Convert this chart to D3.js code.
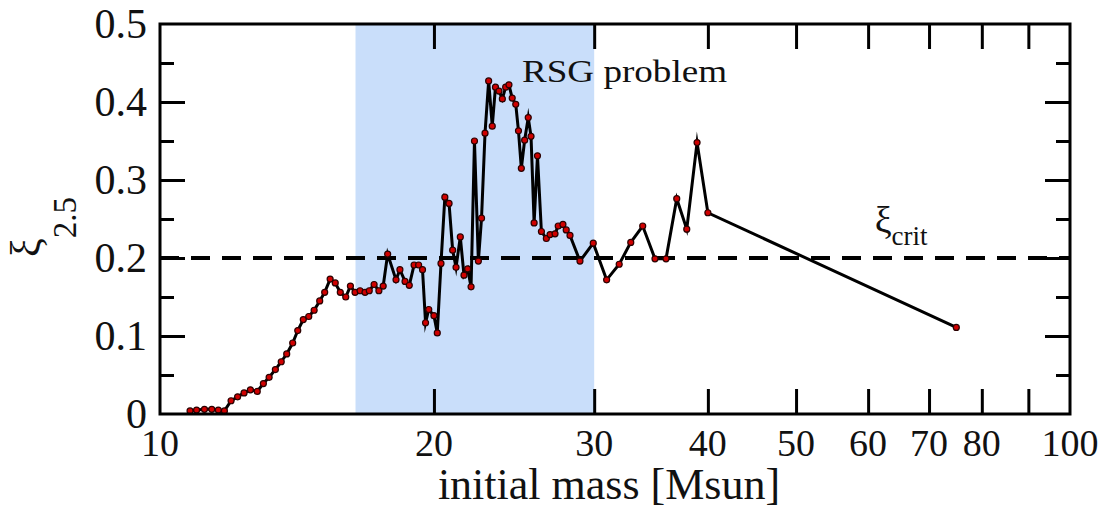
<!DOCTYPE html>
<html>
<head>
<meta charset="utf-8">
<script src="https://cdn.jsdelivr.net/npm/d3@7"></script>
<style>
  body { margin: 0; background: #fff; }
  svg { display: block; }
  text { font-family: "Liberation Serif", "Times New Roman", serif; fill: #111; }
</style>
</head>
<body>
<svg id="chart" width="1107" height="512"></svg>
<script>
'use strict';

// initial mass [Msun] and compactness xi_2.5
const masses = [
  10.79, 10.97, 11.19, 11.40, 11.59, 11.77, 11.97, 12.17, 12.37, 12.57,
  12.79, 12.99, 13.18, 13.39, 13.59, 13.78, 13.99, 14.17, 14.37, 14.57,
  14.77, 14.98, 15.17, 15.38, 15.58, 15.78, 16.00, 16.19, 16.38, 16.59,
  16.80, 16.98, 17.19, 17.40, 17.59, 17.79, 18.17, 18.35, 18.59, 18.79,
  19.02, 19.24, 19.43, 19.58, 19.74, 20.00, 20.17, 20.36, 20.56, 20.78,
  20.97, 21.15, 21.38, 21.58, 21.78, 21.97, 22.16, 22.38, 22.56, 22.76,
  22.97, 23.18, 23.37, 23.58, 23.78, 23.98, 24.18, 24.38, 24.60, 24.77,
  24.95, 25.16, 25.39, 25.57, 25.77, 25.99, 26.25, 26.58, 26.83, 27.17,
  27.39, 27.72, 27.95, 28.22, 28.94, 29.93, 30.96, 31.96, 32.91, 33.92,
  34.99, 35.98, 36.97, 37.92, 38.92, 40.0, 75.0
];
const xiValues = [
  0.004, 0.005, 0.006, 0.006, 0.005, 0.004, 0.017, 0.022, 0.027, 0.031,
  0.029, 0.039, 0.047, 0.057, 0.067, 0.077, 0.091, 0.107, 0.121, 0.125,
  0.133, 0.145, 0.156, 0.173, 0.168, 0.156, 0.150, 0.164, 0.156, 0.158,
  0.156, 0.158, 0.166, 0.158, 0.164, 0.205, 0.172, 0.185, 0.170, 0.165,
  0.191, 0.191, 0.185, 0.117, 0.134, 0.126, 0.104, 0.193, 0.278, 0.270,
  0.210, 0.188, 0.227, 0.178, 0.186, 0.163, 0.350, 0.196, 0.251, 0.360,
  0.427, 0.369, 0.419, 0.414, 0.404, 0.419, 0.422, 0.405, 0.397, 0.363,
  0.315, 0.351, 0.380, 0.356, 0.245, 0.331, 0.234, 0.225, 0.230, 0.231,
  0.241, 0.243, 0.236, 0.229, 0.196, 0.219, 0.172, 0.192, 0.220, 0.241,
  0.199, 0.199, 0.276, 0.237, 0.348, 0.258, 0.111
];

const rsgRange = [16.4, 30];
const xiCrit = 0.2;

const xTicks = [20, 30, 40, 50, 60, 70, 80, 90];
const xTickLabels = [10, 20, 30, 40, 50, 60, 70, 80, 100];
const yMajor = [0.1, 0.2, 0.3, 0.4];
const yMinor = [0.05, 0.15, 0.25, 0.35, 0.45];
const yTickLabels = [0, 0.1, 0.2, 0.3, 0.4, 0.5];

const svg = d3.select('#chart');
const margin = { top: 24, right: 37, bottom: 98, left: 160 };
const width = +svg.attr('width') - margin.left - margin.right;
const height = +svg.attr('height') - margin.top - margin.bottom;

const x = d3.scaleLog().domain([10, 100]).range([0, width]);
const y = d3.scaleLinear().domain([0, 0.5]).range([height, 0]);

const g = svg.append('g')
  .attr('transform', `translate(${margin.left},${margin.top})`);

// RSG problem band
g.append('rect')
  .attr('x', x(rsgRange[0]))
  .attr('y', 0)
  .attr('width', x(rsgRange[1]) - x(rsgRange[0]))
  .attr('height', height)
  .attr('fill', '#c9defa');

// critical compactness
g.append('line')
  .attr('x1', 0).attr('x2', width)
  .attr('y1', y(xiCrit)).attr('y2', y(xiCrit))
  .attr('stroke', '#000')
  .attr('stroke-width', 4)
  .attr('stroke-dasharray', '19 12');

const points = masses.map((m, i) => ({ m, xi: xiValues[i] }));

const line = d3.line()
  .x(d => x(d.m))
  .y(d => y(d.xi));

g.append('path')
  .datum(points)
  .attr('d', line)
  .attr('fill', 'none')
  .attr('stroke', '#000')
  .attr('stroke-width', 3)
  .attr('stroke-linejoin', 'miter')
  .attr('stroke-miterlimit', 8);

g.selectAll('circle.pt')
  .data(points)
  .enter().append('circle')
    .attr('class', 'pt')
    .attr('cx', d => x(d.m))
    .attr('cy', d => y(d.xi))
    .attr('r', 3)
    .attr('fill', '#d00000')
    .attr('stroke', '#2a0000')
    .attr('stroke-width', 1.2);

// axes: ticks pointing inward on all four sides
const styleAxis = function(sel) {
  sel.select('.domain').remove();
  sel.selectAll('.tick line').attr('stroke', '#000').attr('stroke-width', 3);
  sel.selectAll('text').remove();
};

g.append('g')
  .attr('transform', `translate(0,${height})`)
  .call(d3.axisBottom(x).tickValues(xTicks).tickSize(-25))
  .call(styleAxis);
g.append('g')
  .call(d3.axisTop(x).tickValues(xTicks).tickSize(-25))
  .call(styleAxis);
g.append('g')
  .call(d3.axisLeft(y).tickValues(yMajor).tickSize(-25))
  .call(styleAxis);
g.append('g')
  .call(d3.axisLeft(y).tickValues(yMinor).tickSize(-14))
  .call(styleAxis);
g.append('g')
  .attr('transform', `translate(${width},0)`)
  .call(d3.axisRight(y).tickValues(yMajor).tickSize(-25))
  .call(styleAxis);
g.append('g')
  .attr('transform', `translate(${width},0)`)
  .call(d3.axisRight(y).tickValues(yMinor).tickSize(-14))
  .call(styleAxis);

g.append('rect')
  .attr('width', width)
  .attr('height', height)
  .attr('fill', 'none')
  .attr('stroke', '#000')
  .attr('stroke-width', 3);

// tick labels
g.selectAll('text.ylab')
  .data(yTickLabels)
  .enter().append('text')
    .attr('class', 'ylab')
    .attr('x', -13)
    .attr('y', d => y(d))
    .attr('dy', '0.34em')
    .attr('text-anchor', 'end')
    .attr('font-size', 42)
    .text(d => d);

g.selectAll('text.xlab')
  .data(xTickLabels)
  .enter().append('text')
    .attr('class', 'xlab')
    .attr('x', d => x(d))
    .attr('y', height + 42)
    .attr('text-anchor', 'middle')
    .attr('font-size', 38)
    .text(d => d);

// axis titles
g.append('text')
  .attr('x', width / 2 - 6)
  .attr('y', height + 85)
  .attr('text-anchor', 'middle')
  .attr('font-size', 44)
  .text('initial mass [Msun]');

const yTitle = svg.append('text')
  .attr('transform', 'translate(40,257) rotate(-90)');
yTitle.append('tspan').attr('font-size', 42).text('ξ');
yTitle.append('tspan').attr('font-size', 33).attr('dy', 36).text('2.5');

const critLabel = g.append('text')
  .attr('x', x(61))
  .attr('y', y(0.232));
critLabel.append('tspan').attr('font-size', 38).text('ξ');
critLabel.append('tspan').attr('font-size', 27).attr('dy', 12).text('crit');

g.append('text')
  .attr('x', 362)
  .attr('y', 58)
  .attr('font-size', 31)
  .attr('textLength', 205)
  .attr('lengthAdjust', 'spacingAndGlyphs')
  .text('RSG problem');
</script>
</body>
</html>
